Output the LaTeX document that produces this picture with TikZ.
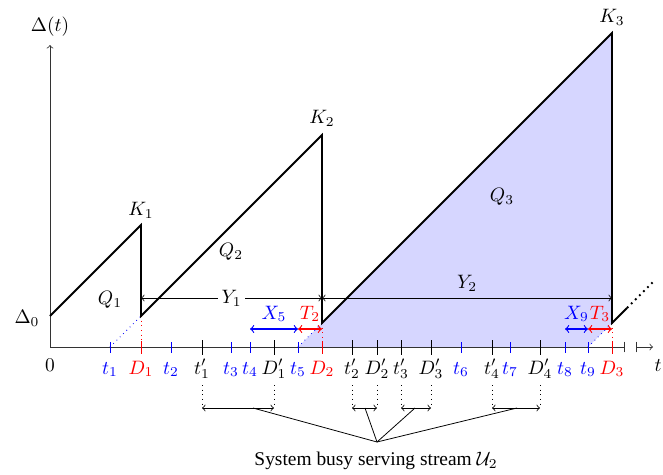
\documentclass[tikz,border=0pt]{standalone}
\usepackage{fontspec}
\setmainfont{Liberation Serif}
\begin{document}
\begin{tikzpicture}[x=0.515pt,y=-0.515pt,
  saw/.style={line width=0.95pt,black},
  axisline/.style={black!80},
  lab/.style={inner sep=0pt},
  btick/.style={blue},
  rtick/.style={red},
  ktick/.style={black},
  carrow/.style={semithick,<->},
  shade/.style={fill=blue!16,draw=none}]
\useasboundingbox (0,0) rectangle (663,474);
% key points
\coordinate (O) at (50,347);
\coordinate (Ytop) at (50,45);
\coordinate (Xend) at (625,347);
\coordinate (Xb) at (636,347);
\coordinate (Xtip) at (653,347);
\coordinate (P0) at (50,316);
\coordinate (K1p) at (141,225);
\coordinate (B1) at (141,316);
\coordinate (K2p) at (322,135);
\coordinate (B2) at (322,323);
\coordinate (K3p) at (612,33);
\coordinate (B3) at (612,323);
\coordinate (E1) at (627,308);
\coordinate (E2) at (655,280);
% shaded area Q3
\fill[shade] (298,347) -- (B2) -- (K3p) -- (B3) -- (588,347) -- cycle;
% axes
\draw[axisline,->] (O) -- (Ytop);
\draw[axisline,-|] (O) -- (Xend);
\draw[axisline,|->] (Xb) -- (Xtip);
\node[lab] (dt) at (50,27) {$\Delta(t)$};
\node[lab] (zero) at (50,365) {$0$};
\node[lab] (tl) at (658,366) {$t$};
\node[lab] (d0) at (27,318) {$\Delta_0$};
% blue arrival ticks
\foreach \i/\x in {1/110,2/171,3/231,4/250,5/298,6/461,7/510,8/565,9/588}{
  \coordinate (t\i) at (\x,347);
  \draw[btick] (\x,342) -- (\x,353);
  \node[lab,text=blue,anchor=base] (lt\i) at (\x,374) {$t_{\i}$};
}
% red departure ticks
\foreach \i/\x in {1/141,2/322,3/612}{
  \coordinate (D\i) at (\x,347);
  \draw[rtick] (\x,341) -- (\x,354);
  \node[lab,text=red,anchor=base] (lD\i) at (\x,374) {$D_{\i}$};
}
% black ticks of stream 2
\foreach \i/\x in {1/202,2/352,3/401,4/492}{
  \coordinate (tp\i) at (\x,347);
  \draw[ktick] (\x,340) -- (\x,355);
  \node[lab,anchor=base] (ltp\i) at (\x,374) {$t'_{\i}$};
  \coordinate (tpa\i) at (\x,385);
  \coordinate (tpb\i) at (\x,408);
  \draw[dotted] (tpa\i) -- (tpb\i);
}
\foreach \i/\x in {1/274,2/377,3/431,4/540}{
  \coordinate (Dp\i) at (\x,347);
  \draw[ktick] (\x,340) -- (\x,355);
  \node[lab,anchor=base] (lDp\i) at (\x,374) {$D'_{\i}$};
  \coordinate (Dpa\i) at (\x,385);
  \coordinate (Dpb\i) at (\x,408);
  \draw[dotted] (Dpa\i) -- (Dpb\i);
}
% generation-time dotted lines
\draw[blue,dotted] (t1) -- (B1);
\draw[blue,dotted] (t5) -- (B2);
\draw[blue,dotted] (t9) -- (B3);
\draw[red,dotted] (B1) -- (D1);
\draw[red,dotted] (B2) -- (D2);
\draw[red,dotted] (B3) -- (D3);
% sawtooth
\draw[saw] (P0) -- (K1p) -- (B1) -- (K2p) -- (B2) -- (K3p) -- (B3) -- (E1);
\draw[saw,dotted] (E1) -- (E2);
% labels
\node[lab] (k1) at (141,210) {$K_1$};
\node[lab] (k2) at (322,118) {$K_2$};
\node[lab] (k3) at (612,17) {$K_3$};
\node[lab] (q1) at (110,300) {$Q_1$};
\node[lab] (q2) at (231,252) {$Q_2$};
\node[lab] (q3) at (502,197) {$Q_3$};
% Y arrows
\coordinate (Y1l) at (141,298);
\coordinate (Y1r) at (322,298);
\coordinate (Y2r) at (612,298);
\draw[<->] (Y1l) -- node[fill=white,inner sep=2pt] (y1) {$Y_1$} (Y1r);
\draw[<->] (Y1r) -- node[above] (y2) {$Y_2$} (Y2r);
% X and T arrows
\coordinate (a4) at (250,329);
\coordinate (a5) at (298,329);
\coordinate (a6) at (322,329);
\coordinate (a8) at (565,329);
\coordinate (a9) at (588,329);
\coordinate (a10) at (612,329);
\draw[carrow,blue] (a4) -- node[above,text=blue] (x5) {$X_5$} (a5);
\draw[carrow,red] (a5) -- node[above,text=red] (tt2) {$T_2$} (a6);
\draw[carrow,blue] (a8) -- node[above,text=blue] (x9) {$X_9$} (a9);
\draw[carrow,red] (a9) -- node[above,text=red] (tt3) {$T_3$} (a10);
% busy periods of stream 2
\foreach \i in {1,...,4}{
  \draw[<->] (tpb\i) -- (Dpb\i);
}
\node (cap) at (376,461) {System busy serving stream $\mathcal{U}_2$};
\coordinate (conv) at (377,442);
\coordinate (m1) at (253,408);
\coordinate (m2) at (365,408);
\coordinate (m3) at (415,408);
\coordinate (m4) at (517,408);
\foreach \i in {1,...,4}{ \draw (m\i) -- (conv); }
\end{tikzpicture}
\end{document}
